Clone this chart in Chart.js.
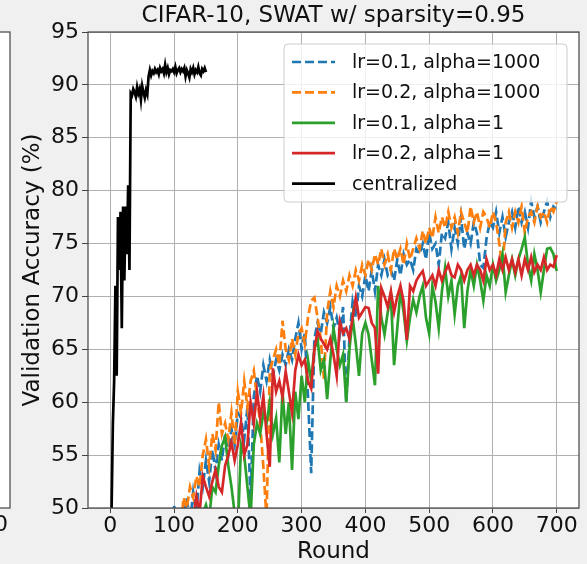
<!DOCTYPE html>
<html>
<head>
<meta charset="utf-8">
<script src="https://cdn.jsdelivr.net/npm/chart.js@4.4.1/dist/chart.umd.min.js"></script>
<style>
  html, body { margin: 0; padding: 0; background: #f0f0f0; }
  #wrap { width: 587px; height: 564px; }
</style>
</head>
<body>
<div id="wrap"><canvas id="myChart" width="587" height="564"></canvas></div>
<script>
//DATA
const xTicks = [0, 100, 200, 300, 400, 500, 600, 700];
const yTicks = [50, 55, 60, 65, 70, 75, 80, 85, 90, 95];

// federated runs are logged every 5 rounds, from round 100 to 700
const fedRounds = [];
for (let r = 100; r <= 700; r += 5) fedRounds.push(r);

const lr01Alpha1000 = [
  50.2, 48, 47, 49, 51, 48.5, 51.5, 49.5, 53.5, 52,
  54.5, 52.5, 55.5, 53.5, 56, 54.5, 57, 55, 57.5, 56,
  59, 58.5, 56.5, 59.5, 50.5, 60.5, 62.5, 61, 63.5, 62,
  64, 62.5, 64, 63, 64.5, 63.5, 65, 64, 66, 67.5,
  65, 66.5, 60.5, 53.3, 66, 67.5, 66.5, 68.5, 67.5, 69,
  67, 68, 66.5, 69, 60, 66, 69.5, 68, 71, 70,
  72, 70.5, 72.5, 70.5, 73, 72, 73.5, 72, 72.5, 71.5,
  73.5, 72, 74, 73, 73.5, 72.5, 74.5, 74, 75, 73.5,
  76, 74.5, 75, 73, 76, 75.5, 77, 74.5, 76.5, 75,
  77.5, 74.5, 76, 75, 77, 76, 73, 72.7, 75.5, 77,
  76.5, 78, 76, 77.5, 75.6, 77, 78, 76.5, 78.5, 77,
  78, 76.5, 79, 77.5, 78.5, 77, 78, 79, 77.5, 78.5,
  78.2
];
const lr02Alpha1000 = [
  47, 49, 48, 51, 50, 52, 51, 53, 52, 55,
  56.5, 54, 57, 55.5, 60, 57, 58, 56.5, 59, 56,
  61, 59, 62, 59.5, 62, 63, 60.5, 58, 53.9, 49,
  63, 64, 65, 63.5, 67.7, 65, 64, 66, 64.5, 66.5,
  67, 65.5, 68, 69.6, 69.9, 68, 66, 62.2, 68.5, 70.5,
  69, 71, 70, 71.5, 70.5, 72, 71, 72.5, 71.5, 73,
  72, 73.5, 72.5, 74, 73, 74.5, 73, 74, 72.5, 74.5,
  73.5, 74.5, 73, 75, 73.5, 74.5, 75.5, 74.5, 76.2, 75,
  76.5, 75.5, 77.5, 76, 77.5, 76.5, 78, 76.5, 77.5, 76,
  78, 77, 76, 78.5, 77, 78, 76.5, 78, 77.5, 76.5,
  78, 77, 75, 72.5, 77, 78, 76.5, 78, 77, 78.5,
  76, 77.5, 78, 77, 78.5, 77.5, 78, 77, 78.5, 78,
  79
];
const lr01Alpha1 = [
  44, 46, 45, 47, 46, 48, 47, 49, 48, 49.5,
  50.3, 49, 52, 51.5, 54, 55.9, 56.7, 54, 52, 49.5,
  48, 56, 55, 52, 49, 56, 58, 57, 59, 58,
  60, 57, 58.5, 54.3, 61, 57, 60, 53.6, 61, 58.4,
  62.5, 60, 64, 62, 65, 66, 63, 64, 60.3, 64,
  67, 65, 63.5, 64.5, 60, 65, 68, 65.5, 62.5, 66.5,
  67.5, 66.4, 64, 61.6, 71, 68, 66.4, 68.5, 70, 63.5,
  67, 70.5, 68.5, 65.8, 68, 69.7, 68.5, 70, 71, 68,
  66.5, 71, 69.5, 67, 70.5, 72.7, 70, 71.5, 68.3, 71,
  72, 67, 70.5, 72.5, 71, 73, 71.5, 69.6, 72, 71,
  73, 71.5, 72.5, 74, 70.4, 72, 73.5, 72, 73.5, 74.5,
  75.6, 73, 71.5, 74, 72.5, 70.4, 72.5, 74.5, 74.6, 74,
  72.4
];
const lr02Alpha1 = [
  45, 46, 47, 46.5, 48, 47.5, 49, 51.1, 49.5, 53,
  52, 51.1, 52.5, 53.6, 52, 51.5, 54, 55, 56.2, 54.5,
  56, 58.1, 55, 56, 60, 58, 61, 58.5, 60.6, 57,
  53.9, 63.2, 61, 62, 60.5, 62.9, 61, 59, 63, 64.5,
  63.5, 64, 62, 61.3, 65, 66.7, 66, 65.5, 65, 66,
  64.5, 62.5, 67.6, 66.5, 67, 66, 68, 69.9, 68, 68.5,
  69, 68.9, 67.5, 67, 62.7, 70.8, 70, 69, 70.5, 68.5,
  70, 71, 69.5, 65.9, 71, 70.5, 71.5, 72, 72.4, 71,
  71.5, 72, 71, 72.5, 71.5, 72.3, 73, 72, 71.8, 73,
  72.5, 71.5, 72.5, 73, 72, 73, 72.5, 71.5, 73.5, 72.5,
  73, 72, 73.5, 72.5, 73.7, 72.5, 73.5, 72.3, 73.5, 72,
  73.5, 72.5, 73.7, 72.3, 73, 72.5, 73.7, 72.5, 73, 72.8,
  73.9
];

// centralized run, every 2 rounds from 0 to 150
const centralRounds = [];
for (let r = 0; r <= 150; r += 2) centralRounds.push(r);
const centralized = [
  40, 50, 58, 62, 71, 62.5, 77.5, 72.5, 78, 67,
  78.5, 71.5, 78.5, 74, 80.5, 72.5, 89.2, 89, 89.6, 89.3,
  88.9, 89.8, 89.2, 89.6, 88.6, 89.9, 89.3, 88.8, 89.5, 89.1,
  90.8, 91.4, 90.9, 91.3, 91.1, 91.5, 91.2, 91.4, 91.0, 91.6,
  91.3, 91.5, 91.1, 91.9, 91.2, 91.6, 91.0, 91.4, 91.3, 91.5,
  91.2, 91.7, 91.1, 91.4, 91.6, 91.2, 91.5, 91.3, 91.6, 90.8,
  91.4, 91.1, 90.7, 91.5, 91.2, 91.6, 91.0, 91.4, 91.2, 91.7,
  91.1, 90.9, 91.5, 91.3, 91.6, 91.2
];

const seriesLabels = ["lr=0.1, alpha=1000", "lr=0.2, alpha=1000", "lr=0.1, alpha=1", "lr=0.2, alpha=1", "centralized"];

const font = "'DejaVu Sans', sans-serif";

var toPoints = function (xs, ys) {
  return xs.map((x, i) => ({ x: x, y: ys[i] }));
};

var makeSet = function (label, xs, ys, color, dashed, order) {
  return {
    label: label,
    data: toPoints(xs, ys),
    borderColor: color,
    backgroundColor: color,
    borderWidth: 2.7,
    borderDash: dashed ? [9, 4] : [],
    pointRadius: 0,
    tension: 0,
    clip: 0,
    order: order,
  };
};

const data = {
  datasets: [
    makeSet(seriesLabels[0], fedRounds, lr01Alpha1000, "#1f77b4", true, 5),
    makeSet(seriesLabels[1], fedRounds, lr02Alpha1000, "#ff7f0e", true, 4),
    makeSet(seriesLabels[2], fedRounds, lr01Alpha1, "#2ca02c", false, 3),
    makeSet(seriesLabels[3], fedRounds, lr02Alpha1, "#d62728", false, 2),
    makeSet(seriesLabels[4], centralRounds, centralized, "#000000", false, 1),
  ],
};

//white plot area, frame, the edge of the neighbouring panel and the legend box
const framePlugin = {
  id: "frame",
  beforeDraw(chart) {
    const { ctx, chartArea: a } = chart;
    ctx.save();
    ctx.fillStyle = "#ffffff";
    ctx.fillRect(a.left, a.top, a.right - a.left, a.bottom - a.top);
    // right edge of the panel to the left, cut off by the crop
    ctx.fillRect(0, a.top, 10, a.bottom - a.top);
    ctx.strokeStyle = "#444444";
    ctx.lineWidth = 1.2;
    ctx.strokeRect(-5, a.top, 15, a.bottom - a.top);
    ctx.fillStyle = "#111111";
    ctx.font = "22px " + font;
    ctx.textAlign = "center";
    ctx.textBaseline = "middle";
    ctx.fillText("0", 1, a.bottom + 17);
    ctx.restore();
  },
  afterDatasetsDraw(chart) {
    const { ctx, chartArea: a } = chart;
    ctx.save();
    ctx.strokeStyle = "#444444";
    ctx.lineWidth = 1.2;
    ctx.strokeRect(a.left, a.top, a.right - a.left, a.bottom - a.top);

    // legend, upper right inside the axes
    const bx = a.right - 295, by = a.top + 12, bw = 283, bh = 158;
    ctx.beginPath();
    ctx.roundRect(bx, by, bw, bh, 4);
    ctx.fillStyle = "rgba(255,255,255,0.8)";
    ctx.fill();
    ctx.strokeStyle = "#cccccc";
    ctx.lineWidth = 1;
    ctx.stroke();
    ctx.font = "19px " + font;
    ctx.textAlign = "left";
    ctx.textBaseline = "middle";
    chart.data.datasets.forEach((ds, i) => {
      const y = by + 18 + i * 30.4;
      ctx.beginPath();
      ctx.setLineDash(ds.borderDash);
      ctx.strokeStyle = ds.borderColor;
      ctx.lineWidth = ds.borderWidth;
      ctx.moveTo(bx + 8, y);
      ctx.lineTo(bx + 51, y);
      ctx.stroke();
      ctx.setLineDash([]);
      ctx.fillStyle = "#111111";
      ctx.fillText(ds.label, bx + 68, y + 1);
    });
    ctx.restore();
  },
};

const config = {
  type: "line",
  data: data,
  options: {
    responsive: false,
    animation: false,
    devicePixelRatio: 1,
    layout: { padding: { left: 0, right: 8, top: 0, bottom: 0 } },
    plugins: {
      legend: { display: false },
      tooltip: { enabled: false },
      title: {
        display: true,
        fullSize: false,
        text: "CIFAR-10, SWAT w/ sparsity=0.95",
        color: "#111111",
        font: { family: font, size: 23, weight: "normal", lineHeight: 1.2 },
        padding: { top: 2, bottom: 2.4 },
      },
    },
    scales: {
      x: {
        type: "linear",
        min: -35,
        max: 735,
        afterBuildTicks: (scale) => {
          scale.ticks = xTicks.map((v) => ({ value: v }));
        },
        afterFit: (scale) => {
          scale.height = 56;
        },
        grid: { color: "#b0b0b0", lineWidth: 1, tickLength: 5, tickColor: "#444444", drawOnChartArea: true },
        border: { display: false },
        ticks: { color: "#111111", font: { family: font, size: 22 }, padding: 0, maxRotation: 0 },
        title: {
          display: true,
          text: "Round",
          color: "#111111",
          font: { family: font, size: 23, lineHeight: 1.0 },
          padding: { top: 0, bottom: 0 },
        },
      },
      y: {
        min: 50,
        max: 95,
        afterBuildTicks: (scale) => {
          scale.ticks = yTicks.map((v) => ({ value: v }));
        },
        afterFit: (scale) => {
          scale.width = 88;
        },
        grid: { color: "#b0b0b0", lineWidth: 1, tickLength: 6, tickColor: "#444444" },
        border: { display: false },
        ticks: { color: "#111111", font: { family: font, size: 22 }, padding: 3 },
        title: {
          display: true,
          text: "Validation Accuracy (%)",
          color: "#111111",
          font: { family: font, size: 23, lineHeight: 1.2 },
          padding: { top: 19, bottom: 0 },
        },
      },
    },
  },
  plugins: [framePlugin],
};

const myChart = new Chart(document.getElementById("myChart"), config);
</script>
</body>
</html>
